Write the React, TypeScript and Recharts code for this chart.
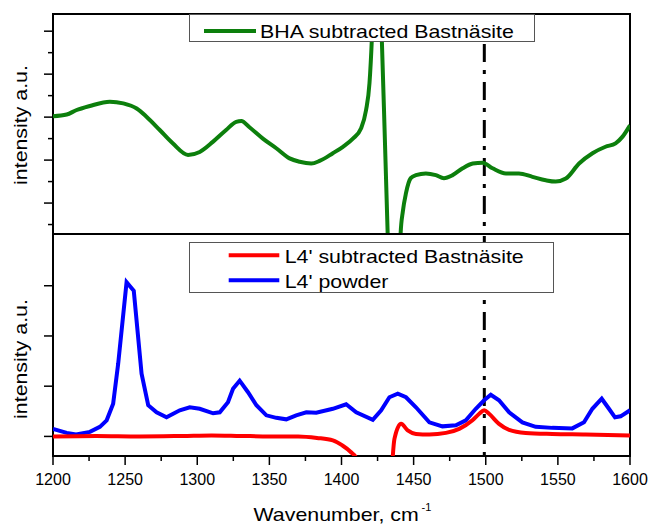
import React from "react";
import {
  LineChart,
  Line,
  XAxis,
  YAxis,
  ReferenceLine,
  ReferenceArea,
  Legend,
  Label,
} from "recharts";

// wavenumber ticks (cm-1), labels on every 50
const xTicks = [
  1200, 1225, 1250, 1275, 1300, 1325, 1350, 1375, 1400, 1425, 1450, 1475,
  1500, 1525, 1550, 1575, 1600,
];
const topYTicks = [0.5, 1, 1.5, 2, 2.5, 3, 3.5, 4, 4.5, 5];
const bottomYTicks = [0, 1, 2, 3];

// BHA subtracted Bastnäsite (top panel)
const greenWn = [
  1200, 1209.5, 1216, 1225.6, 1239.4, 1248.7, 1258, 1264.8, 1274, 1283, 1293.6,
  1301.7, 1311, 1320, 1327, 1330.6, 1336, 1345.5, 1355, 1364, 1371, 1379,
  1384.8, 1394, 1401, 1407.9, 1413.6, 1417, 1419.4, 1421, 1424.5, 1427.5, 1432,
  1434, 1439, 1441, 1442.5, 1444.7, 1448, 1451.6, 1458.5, 1465.4, 1471, 1477,
  1484, 1491, 1497.8, 1504.7, 1514, 1523, 1532.4, 1541.6, 1548.5, 1555.5,
  1564.7, 1574, 1583, 1590, 1594.7, 1600,
];
const greenI = [
  3.02, 3.06, 3.16, 3.26, 3.36, 3.32, 3.2, 3.01, 2.7, 2.39, 2.12, 2.19, 2.43,
  2.7, 2.89, 2.91, 2.77, 2.5, 2.27, 2.04, 1.96, 1.92, 1.98, 2.16, 2.31, 2.5,
  2.74, 3.16, 3.79, 4.79, 9.0, 5.3, 0.3, -2.5, -2.5, 0.3, 0.8, 1.23, 1.58,
  1.65, 1.69, 1.65, 1.58, 1.65, 1.81, 1.92, 1.94, 1.81, 1.69, 1.69, 1.61, 1.53,
  1.5, 1.57, 1.92, 2.16, 2.31, 2.39, 2.54, 2.81,
];

// L4' powder (bottom panel)
const blueWn = [
  1200, 1209.5, 1216, 1225.6, 1232.5, 1237.2, 1241.7, 1245.2, 1251, 1256,
  1261.4, 1266, 1271.8, 1278.7, 1287.9, 1294.8, 1301.7, 1311, 1315.6, 1321.3,
  1324.8, 1329.4, 1335.2, 1341, 1347.9, 1354.8, 1361.7, 1368.6, 1375.6, 1382.5,
  1394, 1403.2, 1410.2, 1421.7, 1427.5, 1433.2, 1439, 1444.7, 1451.6, 1460.9,
  1470, 1479.3, 1486.2, 1493.1, 1498.9, 1503.5, 1509.2, 1516.2, 1525.4, 1534.6,
  1546.1, 1560, 1568.1, 1573.9, 1580.4, 1585.4, 1589.6, 1593.5, 1600,
];
const blueI = [
  0.15, 0.07, 0.04, 0.09, 0.19, 0.32, 0.65, 1.45, 3.07, 2.9, 1.25, 0.62, 0.48,
  0.38, 0.52, 0.58, 0.55, 0.46, 0.48, 0.68, 0.95, 1.11, 0.88, 0.62, 0.42, 0.37,
  0.34, 0.42, 0.48, 0.47, 0.55, 0.64, 0.48, 0.33, 0.52, 0.78, 0.85, 0.78, 0.58,
  0.28, 0.2, 0.22, 0.32, 0.55, 0.72, 0.83, 0.72, 0.48, 0.28, 0.19, 0.17, 0.16,
  0.28, 0.55, 0.75, 0.55, 0.38, 0.4, 0.52,
];

// L4' subtracted Bastnäsite (bottom panel)
const redWn = [
  1200, 1230, 1260, 1290, 1310, 1330, 1350, 1370, 1383, 1394, 1400.6, 1406.4,
  1411, 1414, 1434, 1436.7, 1441.3, 1445.9, 1451.6, 1460.9, 1472.4, 1481.6,
  1490.8, 1495.5, 1498.9, 1502.3, 1509.2, 1516.2, 1527.7, 1546.1, 1569.2, 1600,
];
const redI = [
  0.0, 0.01, 0.0, 0.01, 0.02, 0.01, 0.0, 0.0, -0.03, -0.08, -0.18, -0.31,
  -0.47, -0.8, -0.8, -0.05, 0.25, 0.12, 0.05, 0.04, 0.07, 0.15, 0.32, 0.45,
  0.52, 0.45, 0.25, 0.13, 0.07, 0.05, 0.04, 0.02,
];

const greenData = greenWn.map((wn, i) => ({ wn, v: greenI[i] }));
const blueData = blueWn.map((wn, i) => ({ wn, v: blueI[i] }));
const redData = redWn.map((wn, i) => ({ wn, v: redI[i] }));

const topDomain = [0.28, 5.4];
const bottomDomain = [-0.39, 4.03];
const markerX = 1499;

const FONT = "Liberation Sans, Arial, sans-serif";
const TEXT_SIZE = 17.5;
const STRETCH = 1.22; // the figure's text is drawn a bit wide

// ticks drawn by hand so minor ones can be shorter
const BottomXTick = (props: any) => {
  const { x, y, payload } = props;
  const major = payload.value % 50 === 0;
  return (
    <g>
      <line x1={x} x2={x} y1={y} y2={y + (major ? 9 : 5)} stroke="#000" strokeWidth={1.5} />
      {major && (
        <text x={x} y={y + 29} textAnchor="middle" fontSize={16} fontFamily={FONT} fill="#000">
          {payload.value}
        </text>
      )}
    </g>
  );
};

const InnerTopXTick = (props: any) => {
  const { x, y, payload } = props;
  const major = payload.value % 50 === 0;
  return <line x1={x} x2={x} y1={y} y2={y + (major ? 9 : 5)} stroke="#000" strokeWidth={1.5} />;
};

const LeftYTick = (props: any) => {
  const { x, y, payload } = props;
  const major = Number.isInteger(payload.value);
  return <line x1={x} x2={x - (major ? 9 : 5)} y1={y} y2={y} stroke="#000" strokeWidth={1.5} />;
};

const yLabel = (dy: number) => (props: any) => {
  const vb = props.viewBox;
  const cy = vb.y + vb.height / 2 + dy;
  return (
    <text
      transform={`translate(27, ${cy}) rotate(-90) scale(${STRETCH}, 1)`}
      textAnchor="middle"
      fontSize={TEXT_SIZE}
      fontFamily={FONT}
      fill="#000"
    >
      intensity a.u.
    </text>
  );
};

const xTitle = (props: any) => {
  const vb = props.viewBox;
  const x0 = vb.x + vb.width / 2 - 88;
  const base = vb.y + 65;
  return (
    <g>
      <text transform={`translate(${x0}, ${base}) scale(${STRETCH}, 1)`} fontSize={TEXT_SIZE} fontFamily={FONT} fill="#000">
        Wavenumber, cm
      </text>
      <text x={x0 + 168} y={base - 10} fontSize={11} fontFamily={FONT} fill="#000">
        -1
      </text>
    </g>
  );
};

const legendBox = (w: number, h: number, lineX: number[], textX: number, rowY: number[], order: string[]) =>
  (props: any) => {
    const items = [...(props.payload ?? [])].sort(
      (a: any, b: any) => order.indexOf(a.value) - order.indexOf(b.value)
    );
    return (
      <div style={{ width: w, height: h, border: "1px solid #555", background: "#fff", boxSizing: "border-box" }}>
        <svg width={w - 2} height={h - 2} style={{ display: "block" }}>
          {items.map((it: any, i: number) => (
            <g key={it.value}>
              <line x1={lineX[0]} x2={lineX[1]} y1={rowY[i]} y2={rowY[i]} stroke={it.color} strokeWidth={4} />
              <text
                transform={`translate(${textX}, ${rowY[i] + 7.4}) scale(${STRETCH}, 1)`}
                fontSize={TEXT_SIZE}
                fontFamily={FONT}
                fill="#000"
              >
                {it.value}
              </text>
            </g>
          ))}
        </svg>
      </div>
    );
  };

export default function App() {
  return (
    <div style={{ position: "absolute", left: 0, top: 0, width: 651, height: 525, background: "#fff" }}>
      <div style={{ position: "absolute", left: 0, top: 0 }}>
        <LineChart width={651} height={240} margin={{ top: 14, right: 21, bottom: 6, left: 0 }}>
          <XAxis dataKey="wn" type="number" domain={[1200, 1600]} ticks={xTicks} allowDataOverflow hide />
          <YAxis
            type="number"
            domain={topDomain}
            ticks={topYTicks}
            interval={0}
            allowDataOverflow
            width={53}
            axisLine={false}
            tickLine={false}
            tickSize={0}
            tickMargin={0}
            tick={<LeftYTick />}
            label={<Label content={yLabel(1)} />}
          />
          <ReferenceArea x1={1200} x2={1600} y1={topDomain[0]} y2={topDomain[1]} fill="none" stroke="#000" strokeWidth={2} />
          <ReferenceLine x={markerX} stroke="#000" strokeWidth={3} strokeDasharray="18 8 4 8" strokeDashoffset={18} />
          <Line data={greenData} dataKey="v" name="BHA subtracted Bastnäsite" type="monotone" stroke="#0c7f0c" strokeWidth={4} dot={false} activeDot={false} isAnimationActive={false} />
          <Legend
            layout="vertical"
            align="center"
            verticalAlign="middle"
            wrapperStyle={{ left: 189, top: 14, width: 346, height: 28 }}
            content={legendBox(346, 28, [14, 66], 70, [16], ["BHA subtracted Bastnäsite"])}
          />
        </LineChart>
      </div>
      <div style={{ position: "absolute", left: 0, top: 230 }}>
        <LineChart width={651} height={295} margin={{ top: 4, right: 21, bottom: 0, left: 0 }}>
          <XAxis
            dataKey="wn"
            type="number"
            domain={[1200, 1600]}
            ticks={xTicks}
            interval={0}
            allowDataOverflow
            height={69}
            axisLine={false}
            tickLine={false}
            tickSize={0}
            tickMargin={0}
            tick={<BottomXTick />}
            label={<Label content={xTitle} />}
          />
          <XAxis
            xAxisId="top"
            orientation="top"
            dataKey="wn"
            type="number"
            domain={[1200, 1600]}
            ticks={xTicks}
            interval={0}
            height={0}
            axisLine={false}
            tickLine={false}
            tickSize={0}
            tickMargin={0}
            tick={<InnerTopXTick />}
          />
          <YAxis
            type="number"
            domain={bottomDomain}
            ticks={bottomYTicks}
            interval={0}
            allowDataOverflow
            width={53}
            axisLine={false}
            tickLine={false}
            tickSize={0}
            tickMargin={0}
            tick={<LeftYTick />}
            label={<Label content={yLabel(14)} />}
          />
          <ReferenceArea x1={1200} x2={1600} y1={bottomDomain[0]} y2={bottomDomain[1]} fill="none" stroke="#000" strokeWidth={2} />
          <ReferenceLine x={markerX} stroke="#000" strokeWidth={3} strokeDasharray="18 8 4 8" strokeDashoffset={26} />
          <Line data={blueData} dataKey="v" name="L4' powder" type="linear" stroke="#0000ff" strokeWidth={4} dot={false} activeDot={false} isAnimationActive={false} />
          <Line data={redData} dataKey="v" name="L4' subtracted Bastnäsite" type="monotone" stroke="#ff0000" strokeWidth={4} dot={false} activeDot={false} isAnimationActive={false} />
          <Legend
            layout="vertical"
            align="center"
            verticalAlign="middle"
            wrapperStyle={{ left: 189, top: 12, width: 365, height: 51 }}
            content={legendBox(365, 51, [38.7, 89.3], 94.7, [12.3, 37.3], ["L4' subtracted Bastnäsite", "L4' powder"])}
          />
        </LineChart>
      </div>
    </div>
  );
}
